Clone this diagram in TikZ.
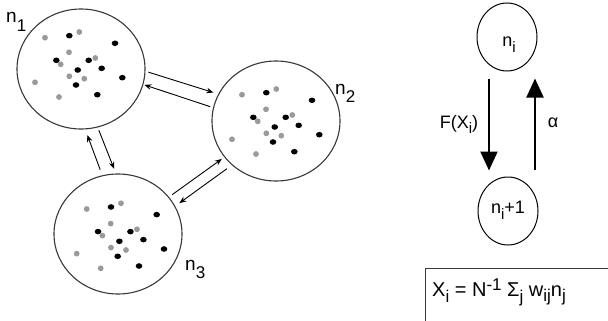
\documentclass[tikz,border=0pt]{standalone}
\usepackage{fontspec}
\setmainfont{Liberation Sans}
\usetikzlibrary{shapes.geometric,arrows.meta,calc}
\newcommand\lsub[3]{\raisebox{#1}{\fontsize{#2}{#2}\selectfont #3}}
\definecolor{dotgray}{HTML}{9A9A9A}
\definecolor{edge}{HTML}{383838}
\tikzset{
  pool/.style={ellipse,draw=edge,line width=1.1pt,minimum width=128pt,minimum height=120pt,inner sep=0pt},
  state/.style={ellipse,draw=black,line width=1pt,minimum width=60pt,minimum height=68pt,inner sep=0pt,font=\fontsize{18}{18}\selectfont},
  thin/.style={-{Stealth[length=7pt,width=5.5pt]},line width=0.9pt,black},
  thick/.style={-{Triangle[length=19pt,width=17pt]},line width=2pt,black},
  plabel/.style={anchor=base west,inner sep=0pt,font=\fontsize{19}{19}\selectfont},
  bdot/.style={fill=black},
  gdot/.style={fill=dotgray},
  dots/.pic={
    \foreach \p in {(-11.7,-33.3),(34,-25.7),(-24.7,-8.7),(7.7,-8.7),(-3.3,1),(20.7,-0.7),(41.3,8.7),(-5,16),(16.3,25.7)}
      \fill[bdot] \p ellipse[x radius=3.3pt,y radius=2.8pt];
    \foreach \p in {(-36,-31.3),(-1.7,-37),(-12,-16.7),(-20.3,-4.7),(14.3,-11),(-46,13.3),(-11.7,7.3),(3.3,9.7),(-22,28)}
      \fill[gdot] \p circle[radius=2.9pt];
  }
}
\begin{document}
\begin{tikzpicture}[x=1pt,y=-1pt]
\useasboundingbox (0,0) rectangle (608,321);
% pools
\node[pool] (n1) at (81,69) {};
\node[pool] (n2) at (276,121) {};
\node[pool] (n3) at (118,234) {};
\pic at (81,69) {dots};
\pic at (278,126) {dots};
\pic at (122.7,240.3) {dots};
% pool labels
\node[plabel] (l1) at (6,23) {n\lsub{-9pt}{17}{1}};
\node[plabel] (l2) at (335,95) {n\lsub{-8pt}{17}{2}};
\node[plabel] (l3) at (185,270) {n\lsub{-8pt}{17}{3}};
% connectors between pools
\draw[thin,shorten <=3pt,shorten >=5pt] (n1.-2) -- (n2.155);
\draw[thin,shorten <=3pt,shorten >=1pt] (n2.168) -- (n1.-14);
\draw[thin,shorten <=3pt,shorten >=5pt] (n1.-74.4) -- (n3.92.6);
\draw[thin,shorten <=6pt,shorten >=6pt] (n3.105.7) -- (n1.-86.5);
\draw[thin,shorten <=4pt,shorten >=3pt] (n3.36.5) -- (n2.215.1);
\draw[thin,shorten <=6pt,shorten >=5pt] (n2.225) -- (n3.26.2);
% right: two-state scheme
\node[state,text height=20pt,text depth=0pt] (ni) at (507,37) {\hspace*{4pt}n\lsub{-6pt}{15}{i}};
\node[state,text height=12pt,text depth=8pt] (nip) at (508,211) {n\lsub{-6pt}{15}{i}+1};
\draw[thick] ([xshift=-18pt,yshift=-8pt]ni.south) -- ([xshift=-19pt,yshift=6pt]nip.north);
\draw[thick] ([xshift=27pt,yshift=7pt]nip.north) -- ([xshift=28pt,yshift=-7pt]ni.south);
\node[font=\fontsize{18}{18}\selectfont,inner sep=0pt] (fx) at (459,124) {F(X\lsub{-5pt}{15}{i})};
\node[font=\fontsize{18}{18}\selectfont,inner sep=0pt] (al) at (553,123) {α};
% formula box
\node[anchor=base west,inner sep=0pt,font=\fontsize{20}{20}\selectfont] (eq) at (432,296)
  {X\lsub{-6pt}{17}{i} = N\lsub{6pt}{17}{-1} Σ\lsub{-6pt}{17}{j} w\lsub{-5pt}{17}{ij}n\lsub{-5pt}{17}{j}};
\draw[draw=edge,line width=1pt] (608,268) -- (425,268) -- (425,321);
\end{tikzpicture}
\end{document}
